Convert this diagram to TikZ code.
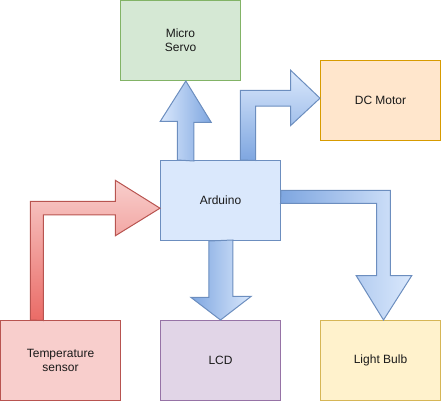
\documentclass[tikz,border=0pt]{standalone}
\usepackage{fontspec}
\setmainfont{Liberation Sans}
\usepackage{tikz}
\usetikzlibrary{calc}
\definecolor{blueFill}{HTML}{DAE8FC}
\definecolor{blueLine}{HTML}{6C8EBF}
\definecolor{blueDark}{HTML}{7EA6E0}
\definecolor{greenFill}{HTML}{D5E8D4}
\definecolor{greenLine}{HTML}{82B366}
\definecolor{orangeFill}{HTML}{FFE6CC}
\definecolor{orangeLine}{HTML}{D79B00}
\definecolor{redFill}{HTML}{F8CECC}
\definecolor{redLine}{HTML}{B85450}
\definecolor{redDark}{HTML}{EA6B66}
\definecolor{purpleFill}{HTML}{E1D5E7}
\definecolor{purpleLine}{HTML}{9673A6}
\definecolor{yellowFill}{HTML}{FFF2CC}
\definecolor{yellowLine}{HTML}{D6B656}
\definecolor{label}{HTML}{1A1A1A}
\tikzstyle{block} = [rectangle, line width=1pt, minimum height=80pt, minimum width=120pt, inner sep=0pt, anchor=north west, text=label, align=center, font=\fontsize{12}{14}\selectfont]
\tikzstyle{bigarrow} = [line width=1pt, draw=blueLine]

\begin{document}
\begin{tikzpicture}[x=1pt, y=-1pt]

        \useasboundingbox (0,0) rectangle (441,401);

        %% blocks
        \node (servo) [block, fill=greenFill, draw=greenLine] at (120,0) {Micro\\Servo};
        \node (motor) [block, fill=orangeFill, draw=orangeLine] at (320,60) {DC Motor};
        \node (arduino) [block, fill=blueFill, draw=blueLine] at (160,160) {Arduino};
        \node (temp) [block, fill=redFill, draw=redLine] at (0,320) {Temperature\\sensor};
        \node (lcd) [block, fill=purpleFill, draw=purpleLine] at (160,320) {LCD};
        \node (bulb) [block, fill=yellowFill, draw=yellowLine] at (320,320) {Light Bulb};


        %% arrows out of the arduino
        \draw[bigarrow, left color=blueFill, right color=blueDark] ($(arduino.north west) + (17.3,0)$) --++(0,-38.7) --++(-17,0)
            -- ($(servo.south) + (5.3,0)$) --++(25.4,41.3) --++(-17.4,0) --++(0,38.7) -- cycle;

        \draw[bigarrow, top color=blueFill, bottom color=blueDark] ($(arduino.north west) + (80.3,0)$) --++(0,-69.7) --++(50.4,0) --++(0,-20)
            -- ($(motor.west) + (0,-2.3)$) --++(-29.3,27.3) --++(0,-19.3) --++(-35,0) --++(0,54.3) -- cycle;

        \draw[bigarrow, left color=blueDark, right color=blueFill] ($(arduino.south) + (-11.7,0)$) --++(0,56.3) --++(-18,0)
            -- (lcd.north) --++(30.7,-23.7) --++(-18.4,0) --++(0,-56.3) -- cycle;

        \draw[bigarrow, left color=blueDark, right color=blueFill] ($(arduino.north east) + (0,30.3)$) --++(109.3,0) --++(0,85.4) --++(21.4,0)
            -- ($(bulb.north) + (3,0)$) --++(-27.3,-44.3) --++(20.3,0) --++(0,-72.4) --++(-96,0) -- cycle;


        %% arrow into the arduino
        \draw[bigarrow, draw=redLine, top color=redFill, bottom color=redDark] ($(temp.north west) + (30.3,0)$) --++(0,-118.7) --++(85,0) --++(0,-21)
            -- ($(arduino.west) + (0,7.7)$) --++(-44.7,27.6) --++(0,-21) --++(-72,0) --++(0,105.7) -- cycle;

    \end{tikzpicture}
\end{document}
